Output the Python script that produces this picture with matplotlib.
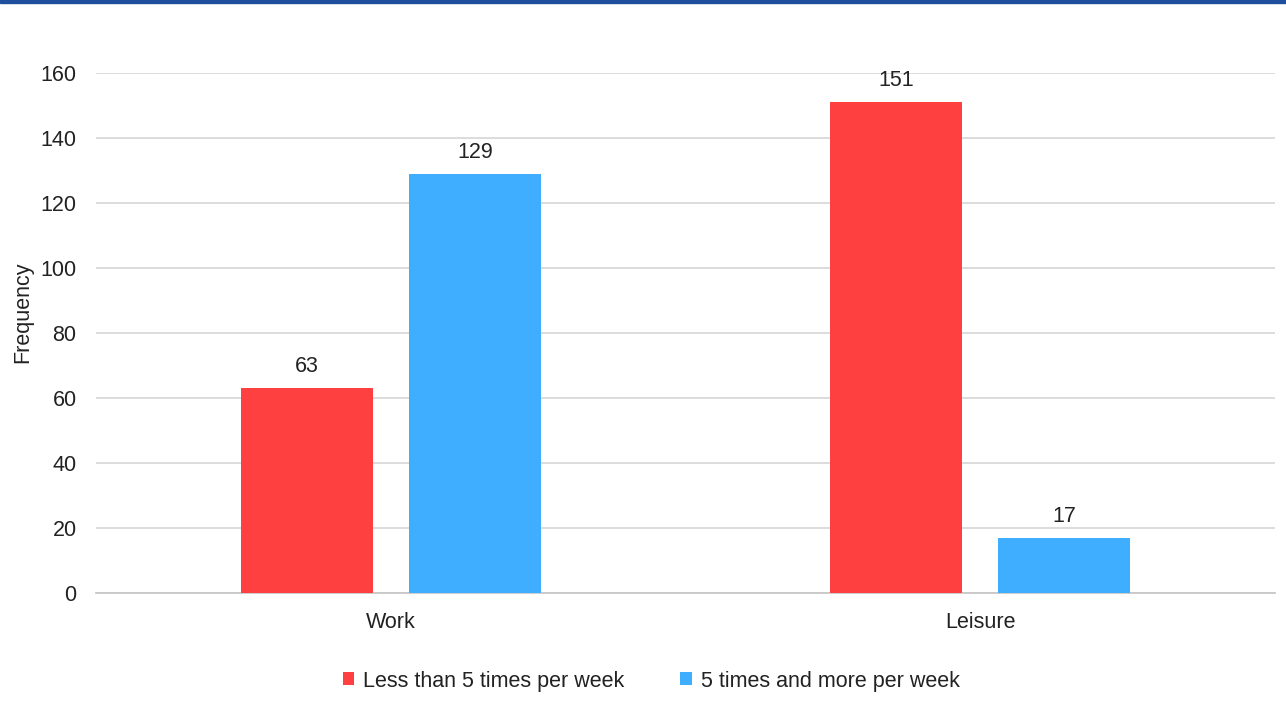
import numpy as np
import matplotlib
matplotlib.use('Agg')
import matplotlib.pyplot as plt
from matplotlib.patches import Rectangle

# chart data
categories = ['Work', 'Leisure']
series_names = ['Less than 5 times per week', '5 times and more per week']
less_than_5 = [63, 151]
five_or_more = [129, 17]
colors = ['#FF4040', '#40AEFF']

plt.rcParams['font.family'] = ['Liberation Sans', 'DejaVu Sans']
fs = 15.5

fig = plt.figure(figsize=(12.86, 7.12), dpi=100)
ax = fig.add_axes([96 / 1286, 1 - 593 / 712, (1275 - 96) / 1286, (593 - 73) / 712])

x = np.arange(len(categories))
width = 0.224
offset = 0.1425
for vals, col, name, sign in [(less_than_5, colors[0], series_names[0], -1),
                              (five_or_more, colors[1], series_names[1], 1)]:
    bars = ax.bar(x + sign * offset, vals, width, color=col, label=name, zorder=3)
    for b, v in zip(bars, vals):
        ax.annotate(str(v), (b.get_x() + b.get_width() / 2, v), xytext=(0, 8),
                    textcoords='offset points', ha='center', va='bottom',
                    fontsize=fs, color='#222222')

ax.set_xlim(-0.5, 1.5)
ax.set_ylim(0, 160)
ax.set_yticks(range(0, 161, 20))
ax.set_xticks(x)
ax.set_xticklabels(categories)
ax.tick_params(axis='both', length=0, labelsize=fs, labelcolor='#222222')
ax.tick_params(axis='y', pad=14)
ax.tick_params(axis='x', pad=14)
ax.grid(axis='y', color='#d9d9d9', linewidth=1.3, zorder=0)
for s in ['top', 'right', 'left']:
    ax.spines[s].set_visible(False)
ax.spines['bottom'].set_color('#c8c8c8')
ax.spines['bottom'].set_linewidth(1.3)

fig.text(23 / 1286, 1 - 312 / 712, 'Frequency', rotation=90, ha='center', va='center',
         fontsize=fs, color='#222222')

leg = fig.legend(loc='center', bbox_to_anchor=(651 / 1286, 1 - 681 / 712), ncol=2,
                 frameon=False, fontsize=fs, handlelength=0.55, handleheight=0.55,
                 handletextpad=0.4, columnspacing=2.6, labelcolor='#222222')

# top border strip
fig.patches.append(Rectangle((0, 1 - 3 / 712), 1, 3 / 712, transform=fig.transFigure,
                             color='#1f4e9c', zorder=10))

fig.savefig('out.png', dpi=100)
